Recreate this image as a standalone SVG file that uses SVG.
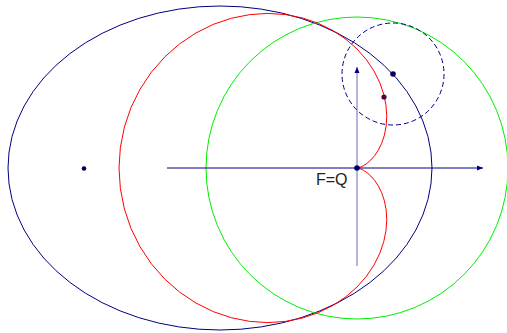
<svg xmlns="http://www.w3.org/2000/svg" width="507" height="333" viewBox="0 0 507 333">
<style>
.thin{fill:none;stroke-width:1}
.navy{stroke:#000080}
.dot{fill:#000060}
</style>
<defs>
<marker id="arr" markerWidth="8" markerHeight="8" refX="6" refY="4" orient="auto" markerUnits="userSpaceOnUse">
<path d="M0,1.5 L6,4 L0,6.5 Z" fill="#000080"/>
</marker>
</defs>
<rect width="507" height="333" fill="#ffffff"/>
<g id="ellipse"><ellipse class="thin navy" cx="220" cy="168" rx="212" ry="162"/></g>
<g id="green-circle"><circle class="thin" stroke="#00ee00" cx="357" cy="168" r="151"/></g>
<g id="cardioid"><path class="thin" stroke="#ff0000" d="M357,168 L357.45,167.96 L358.78,167.69 L360.92,166.95 L363.74,165.55 L367.10,163.29 L370.81,160.03 L374.63,155.66 L378.33,150.10 L381.65,143.35 L384.32,135.44 L386.11,126.43 L386.75,116.47 L386.04,105.73 L383.78,94.42 L379.83,82.80 L374.08,71.16 L366.47,59.79 L357,49 L345.72,39.12 L332.75,30.46 L318.23,23.30 L302.38,17.93 L285.45,14.57 L267.75,13.41 L249.59,14.61 L231.34,18.25 L213.35,24.35 L196.01,32.91 L179.67,43.83 L164.69,56.97 L151.40,72.13 L140.10,89.05 L131.03,107.45 L124.40,126.99 L120.36,147.30 L119,168 L120.36,188.70 L124.40,209.01 L131.03,228.55 L140.10,246.95 L151.40,263.87 L164.69,279.03 L179.67,292.17 L196.01,303.09 L213.35,311.65 L231.34,317.75 L249.59,321.39 L267.75,322.59 L285.45,321.43 L302.38,318.07 L318.23,312.70 L332.75,305.54 L345.72,296.88 L357,287 L366.47,276.21 L374.08,264.84 L379.83,253.20 L383.78,241.58 L386.04,230.27 L386.75,219.53 L386.11,209.57 L384.32,200.56 L381.65,192.65 L378.33,185.90 L374.63,180.34 L370.81,175.97 L367.10,172.71 L363.74,170.45 L360.92,169.05 L358.78,168.31 L357.45,168.04 Z"/></g>
<g id="dashed-circle"><circle class="thin navy" cx="393" cy="74" r="51" stroke-dasharray="5,3"/></g>
<g id="connectors">
<line class="thin navy" x1="167" y1="168" x2="483" y2="168" marker-end="url(#arr)"/>
<line class="thin" stroke="#6a6ab8" x1="357" y1="266" x2="357" y2="67" marker-end="url(#arr)"/>
</g>
<g id="focus"><circle class="dot" cx="84" cy="168.5" r="2.3"/></g>
<g id="point-F"><circle class="dot" cx="357" cy="168" r="2.8"/><text x="316" y="185" font-family="Liberation Sans, Arial, sans-serif" font-size="16" fill="#222222">F=Q</text></g>
<g id="point-P"><circle class="dot" cx="393" cy="74" r="2.8"/></g>
<g id="point-R"><circle fill="#500040" cx="384" cy="97" r="2.6"/></g>
</svg>
